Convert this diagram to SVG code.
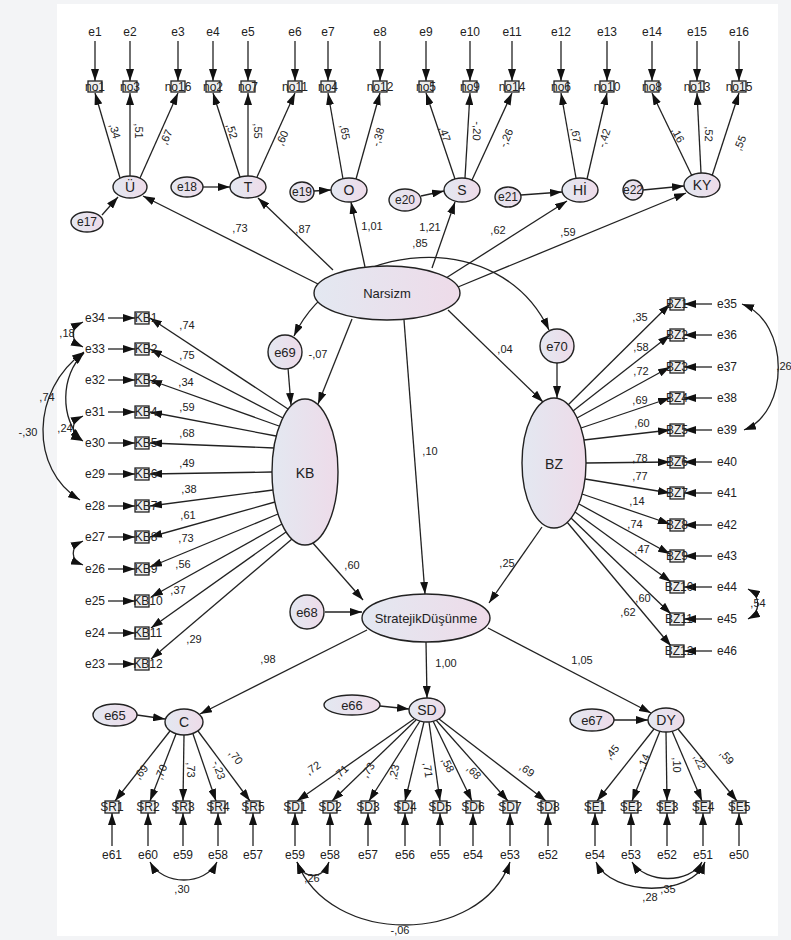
<svg xmlns="http://www.w3.org/2000/svg" width="791" height="940" viewBox="0 0 791 940">
<style>
text{font-family:"Liberation Sans",Arial,sans-serif;fill:#222;}
.t{font-size:12px;text-anchor:middle;}
.n{font-size:11px;text-anchor:middle;}
.L{font-size:14px;text-anchor:middle;}
.ln{stroke:#222;stroke-width:1.3;fill:none;marker-end:url(#ah);}
.cv{stroke:#222;stroke-width:1.3;fill:none;marker-end:url(#ah);marker-start:url(#ah);}
.el{fill:url(#g);stroke:#222;stroke-width:1.4;}
.bx{fill:#eee;stroke:#222;stroke-width:1.3;}
</style>
<defs>
<linearGradient id="g" x1="0" y1="0" x2="1" y2="0"><stop offset="0" stop-color="#e3e8f1"/><stop offset="1" stop-color="#eedbe9"/></linearGradient>
<marker id="ah" viewBox="0 0 12 8" refX="12" refY="4" markerWidth="12" markerHeight="8" markerUnits="userSpaceOnUse" orient="auto-start-reverse"><path d="M0,0L12,4L0,8z" fill="#111"/></marker>
</defs>
<rect width="791" height="940" fill="#f3f4f6"/>
<rect x="57" y="4" width="721" height="932" fill="#fff"/>
<g id="connectors">
<line class="ln" x1="95" y1="41" x2="95" y2="81"/><line class="ln" x1="130" y1="41" x2="130" y2="81"/><line class="ln" x1="178" y1="41" x2="178" y2="81"/><line class="ln" x1="213" y1="41" x2="213" y2="81"/><line class="ln" x1="248" y1="41" x2="248" y2="81"/><line class="ln" x1="295" y1="41" x2="295" y2="81"/><line class="ln" x1="328" y1="41" x2="328" y2="81"/><line class="ln" x1="380" y1="41" x2="380" y2="81"/><line class="ln" x1="426" y1="41" x2="426" y2="81"/><line class="ln" x1="470" y1="41" x2="470" y2="81"/><line class="ln" x1="512" y1="41" x2="512" y2="81"/><line class="ln" x1="561" y1="41" x2="561" y2="81"/><line class="ln" x1="607" y1="41" x2="607" y2="81"/><line class="ln" x1="652" y1="41" x2="652" y2="81"/><line class="ln" x1="697" y1="41" x2="697" y2="81"/><line class="ln" x1="739" y1="41" x2="739" y2="81"/>
<line class="ln" x1="120" y1="178" x2="95" y2="93"/><line class="ln" x1="130" y1="176" x2="130" y2="93"/><line class="ln" x1="140" y1="178" x2="178" y2="93"/>
<line class="ln" x1="240" y1="177" x2="213" y2="93"/><line class="ln" x1="248" y1="176" x2="248" y2="93"/><line class="ln" x1="257" y1="177" x2="295" y2="93"/>
<line class="ln" x1="343" y1="179" x2="328" y2="93"/><line class="ln" x1="356" y1="179" x2="380" y2="93"/>
<line class="ln" x1="455" y1="179" x2="426" y2="93"/><line class="ln" x1="465" y1="178" x2="470" y2="93"/><line class="ln" x1="472" y1="180" x2="512" y2="93"/>
<line class="ln" x1="576" y1="178" x2="561" y2="93"/><line class="ln" x1="587" y1="179" x2="607" y2="93"/>
<line class="ln" x1="692" y1="176" x2="652" y2="93"/><line class="ln" x1="701" y1="173" x2="697" y2="93"/><line class="ln" x1="712" y1="176" x2="739" y2="93"/>
<line class="ln" x1="102" y1="215" x2="118" y2="197"/>
<line class="ln" x1="203" y1="187" x2="230" y2="187"/>
<line class="ln" x1="314" y1="191" x2="331" y2="190"/>
<line class="ln" x1="421" y1="196" x2="444" y2="191"/>
<line class="ln" x1="521" y1="195" x2="562" y2="192"/>
<line class="ln" x1="643" y1="190" x2="684" y2="186"/>
<line class="ln" x1="318" y1="284" x2="143" y2="196"/>
<line class="ln" x1="333" y1="270" x2="258" y2="198"/>
<line class="ln" x1="365" y1="267" x2="351" y2="202"/>
<line class="ln" x1="432" y1="268" x2="455" y2="202"/>
<line class="ln" x1="446" y1="278" x2="567" y2="201"/>
<line class="ln" x1="458" y1="287" x2="686" y2="193"/>
<line class="ln" x1="352" y1="319" x2="318" y2="404"/>
<line class="ln" x1="404" y1="320" x2="425" y2="594"/>
<line class="ln" x1="448" y1="310" x2="543" y2="402"/>
<line class="ln" x1="288" y1="368" x2="291" y2="405"/>
<line class="ln" x1="557" y1="362" x2="557" y2="398"/>
<path class="cv" d="M294,336 C340,240 500,225 549,330"/>
<line class="ln" x1="108" y1="318" x2="135" y2="318"/><line class="ln" x1="108" y1="349" x2="135" y2="349"/><line class="ln" x1="108" y1="380" x2="135" y2="380"/><line class="ln" x1="108" y1="412" x2="135" y2="412"/><line class="ln" x1="108" y1="443" x2="135" y2="443"/><line class="ln" x1="108" y1="474" x2="135" y2="474"/><line class="ln" x1="108" y1="506" x2="135" y2="506"/><line class="ln" x1="108" y1="537" x2="135" y2="537"/><line class="ln" x1="108" y1="569" x2="135" y2="569"/><line class="ln" x1="108" y1="601" x2="135" y2="601"/><line class="ln" x1="108" y1="633" x2="135" y2="633"/><line class="ln" x1="108" y1="664" x2="135" y2="664"/>
<line class="ln" x1="288" y1="409" x2="150" y2="318"/>
<line class="ln" x1="283" y1="418" x2="150" y2="349"/>
<line class="ln" x1="279" y1="426" x2="150" y2="380"/>
<line class="ln" x1="276" y1="436" x2="150" y2="412"/>
<line class="ln" x1="274" y1="448" x2="150" y2="443"/>
<line class="ln" x1="272" y1="472" x2="150" y2="474"/>
<line class="ln" x1="273" y1="490" x2="150" y2="506"/>
<line class="ln" x1="275" y1="502" x2="150" y2="537"/>
<line class="ln" x1="278" y1="514" x2="150" y2="567"/>
<line class="ln" x1="282" y1="524" x2="151" y2="597"/>
<line class="ln" x1="286" y1="532" x2="151" y2="628"/>
<line class="ln" x1="292" y1="539" x2="151" y2="659"/>
<path class="cv" d="M83,322 C70,328 70,341 83,347"/>
<path class="cv" d="M83,416 C70,422 70,435 83,441"/>
<path class="cv" d="M83,541 C70,547 70,560 83,565"/>
<path class="cv" d="M84,353 C60,375 60,420 82,440"/>
<path class="cv" d="M84,352 C30,390 30,470 80,500"/>
<line class="ln" x1="712" y1="304" x2="684" y2="304"/><line class="ln" x1="712" y1="335" x2="684" y2="335"/><line class="ln" x1="712" y1="367" x2="684" y2="367"/><line class="ln" x1="712" y1="398" x2="684" y2="398"/><line class="ln" x1="712" y1="430" x2="684" y2="430"/><line class="ln" x1="712" y1="462" x2="684" y2="462"/><line class="ln" x1="712" y1="493" x2="684" y2="493"/><line class="ln" x1="712" y1="525" x2="684" y2="525"/><line class="ln" x1="712" y1="556" x2="684" y2="556"/><line class="ln" x1="712" y1="587" x2="684" y2="587"/><line class="ln" x1="712" y1="619" x2="684" y2="619"/><line class="ln" x1="712" y1="651" x2="684" y2="651"/>
<line class="ln" x1="568" y1="405" x2="670" y2="304"/>
<line class="ln" x1="573" y1="411" x2="670" y2="335"/>
<line class="ln" x1="577" y1="418" x2="670" y2="367"/>
<line class="ln" x1="581" y1="428" x2="670" y2="398"/>
<line class="ln" x1="584" y1="440" x2="670" y2="430"/>
<line class="ln" x1="586" y1="463" x2="670" y2="462"/>
<line class="ln" x1="585" y1="479" x2="670" y2="493"/>
<line class="ln" x1="582" y1="494" x2="670" y2="524"/>
<line class="ln" x1="579" y1="504" x2="670" y2="554"/>
<line class="ln" x1="575" y1="512" x2="671" y2="582"/>
<line class="ln" x1="571" y1="518" x2="671" y2="614"/>
<line class="ln" x1="567" y1="522" x2="671" y2="646"/>
<path class="cv" d="M742,304 C790,322 790,412 744,430"/>
<path class="cv" d="M748,589 C761,596 761,612 748,619"/>
<line class="ln" x1="312" y1="542" x2="363" y2="600"/>
<line class="ln" x1="542" y1="527" x2="489" y2="603"/>
<line class="ln" x1="325" y1="612" x2="362" y2="612"/>
<line class="ln" x1="367" y1="630" x2="200" y2="714"/>
<line class="ln" x1="426" y1="642" x2="427" y2="698"/>
<line class="ln" x1="488" y1="628" x2="651" y2="713"/>
<line class="ln" x1="137" y1="715" x2="165" y2="719"/>
<line class="ln" x1="380" y1="706" x2="409" y2="709"/>
<line class="ln" x1="614" y1="720" x2="648" y2="720"/>
<line class="ln" x1="170" y1="731" x2="115" y2="801"/>
<line class="ln" x1="176" y1="734" x2="150" y2="801"/>
<line class="ln" x1="184" y1="735" x2="183" y2="801"/>
<line class="ln" x1="193" y1="734" x2="216" y2="801"/>
<line class="ln" x1="198" y1="731" x2="250" y2="801"/>
<line class="ln" x1="414" y1="719" x2="297" y2="801"/>
<line class="ln" x1="416" y1="720" x2="332" y2="801"/>
<line class="ln" x1="420" y1="721" x2="369" y2="801"/>
<line class="ln" x1="424" y1="722" x2="405" y2="801"/>
<line class="ln" x1="429" y1="722" x2="440" y2="801"/>
<line class="ln" x1="433" y1="721" x2="472" y2="801"/>
<line class="ln" x1="436" y1="720" x2="508" y2="801"/>
<line class="ln" x1="439" y1="719" x2="546" y2="801"/>
<line class="ln" x1="654" y1="729" x2="597" y2="801"/>
<line class="ln" x1="660" y1="731" x2="632" y2="801"/>
<line class="ln" x1="666" y1="732" x2="667" y2="801"/>
<line class="ln" x1="672" y1="731" x2="702" y2="801"/>
<line class="ln" x1="678" y1="729" x2="737" y2="801"/>
<line class="ln" x1="112" y1="846" x2="112" y2="813"/><line class="ln" x1="148" y1="846" x2="148" y2="813"/><line class="ln" x1="183" y1="846" x2="183" y2="813"/><line class="ln" x1="218" y1="846" x2="218" y2="813"/><line class="ln" x1="253" y1="846" x2="253" y2="813"/>
<line class="ln" x1="295" y1="846" x2="295" y2="813"/><line class="ln" x1="330" y1="846" x2="330" y2="813"/><line class="ln" x1="368" y1="846" x2="368" y2="813"/><line class="ln" x1="405" y1="846" x2="405" y2="813"/><line class="ln" x1="440" y1="846" x2="440" y2="813"/><line class="ln" x1="473" y1="846" x2="473" y2="813"/><line class="ln" x1="510" y1="846" x2="510" y2="813"/><line class="ln" x1="548" y1="846" x2="548" y2="813"/>
<line class="ln" x1="595" y1="846" x2="595" y2="813"/><line class="ln" x1="631" y1="846" x2="631" y2="813"/><line class="ln" x1="667" y1="846" x2="667" y2="813"/><line class="ln" x1="703" y1="846" x2="703" y2="813"/><line class="ln" x1="739" y1="846" x2="739" y2="813"/>
<path class="cv" d="M150,862 C163,886 205,886 217,862"/>
<path class="cv" d="M297,862 C304,880 322,880 329,862"/>
<path class="cv" d="M297,862 C330,946 480,946 510,862"/>
<path class="cv" d="M596,862 C612,897 692,897 705,862"/>
<path class="cv" d="M632,862 C646,884 690,884 702,862"/>
</g>
<g id="path-labels" class="n">
<text transform="translate(115,131) rotate(74)" dy=".35em">,34</text>
<text transform="translate(139,131) rotate(90)" dy=".35em">,51</text>
<text transform="translate(166,137) rotate(-66)" dy=".35em">,67</text>
<text transform="translate(232,131) rotate(72)" dy=".35em">,52</text>
<text transform="translate(258,131) rotate(90)" dy=".35em">,55</text>
<text transform="translate(282,138) rotate(-66)" dy=".35em">,60</text>
<text transform="translate(345,132) rotate(80)" dy=".35em">,65</text>
<text transform="translate(378,137) rotate(-74)" dy=".35em">-,38</text>
<text transform="translate(445,134) rotate(71)" dy=".35em">,47</text>
<text transform="translate(477,131) rotate(93)" dy=".35em">-,20</text>
<text transform="translate(506,138) rotate(-66)" dy=".35em">-,26</text>
<text transform="translate(576,135) rotate(80)" dy=".35em">,67</text>
<text transform="translate(604,138) rotate(-72)" dy=".35em">-,42</text>
<text transform="translate(678,135) rotate(62)" dy=".35em">,16</text>
<text transform="translate(709,134) rotate(92)" dy=".35em">,52</text>
<text transform="translate(740,143) rotate(-68)" dy=".35em">,55</text>
<text x="240" y="232">,73</text><text x="303" y="233">,87</text><text x="372" y="230">1,01</text><text x="430" y="231">1,21</text><text x="498" y="234">,62</text><text x="568" y="236">,59</text><text x="420" y="247">,85</text>
<text x="318" y="358">-,07</text><text x="430" y="455">,10</text><text x="505" y="353">,04</text>
<text x="187" y="329">,74</text><text x="187" y="359">,75</text><text x="186" y="386">,34</text><text x="187" y="411">,59</text><text x="187" y="437">,68</text><text x="187" y="467">,49</text><text x="189" y="493">,38</text><text x="188" y="519">,61</text><text x="186" y="542">,73</text><text x="183" y="568">,56</text><text x="178" y="594">,37</text><text x="194" y="643">,29</text>
<text x="67" y="337">,18</text><text x="65" y="432">,24</text><text x="47" y="401">,74</text><text x="28" y="436">-,30</text>
<text x="640" y="321">,35</text><text x="641" y="351">,58</text><text x="641" y="375">,72</text><text x="640" y="404">,69</text><text x="642" y="427">,60</text><text x="640" y="462">,78</text><text x="640" y="480">,77</text><text x="637" y="505">,14</text><text x="635" y="528">,74</text><text x="642" y="553">,47</text><text x="643" y="602">,60</text><text x="628" y="616">,62</text>
<text x="784" y="370">,26</text><text x="758" y="607">,54</text>
<text x="352" y="569">,60</text><text x="507" y="567">,25</text><text x="268" y="663">,98</text><text x="446" y="667">1,00</text><text x="582" y="664">1,05</text>
<text transform="translate(141,772) rotate(-51)" dy=".35em">,69</text>
<text transform="translate(161,772) rotate(-68)" dy=".35em">,70</text>
<text transform="translate(191,770) rotate(90)" dy=".35em">,73</text>
<text transform="translate(219,770) rotate(71)" dy=".35em">-,23</text>
<text transform="translate(236,757) rotate(53)" dy=".35em">,70</text>
<text transform="translate(313,768) rotate(-34)" dy=".35em">,72</text>
<text transform="translate(341,772) rotate(-43)" dy=".35em">,71</text>
<text transform="translate(368,770) rotate(-57)" dy=".35em">,73</text>
<text transform="translate(394,772) rotate(-76)" dy=".35em">,23</text>
<text transform="translate(428,770) rotate(82)" dy=".35em">,71</text>
<text transform="translate(448,765) rotate(63)" dy=".35em">,58</text>
<text transform="translate(474,772) rotate(47)" dy=".35em">,68</text>
<text transform="translate(527,770) rotate(37)" dy=".35em">,69</text>
<text transform="translate(612,752) rotate(-50)" dy=".35em">,45</text>
<text transform="translate(643,763) rotate(-67)" dy=".35em">-,14</text>
<text transform="translate(677,765) rotate(90)" dy=".35em">,10</text>
<text transform="translate(700,762) rotate(66)" dy=".35em">,22</text>
<text transform="translate(727,757) rotate(49)" dy=".35em">,59</text>
<text x="182" y="893">,30</text><text x="312" y="882">,26</text><text x="400" y="934">-,06</text><text x="650" y="901">,28</text><text x="668" y="893">,35</text>
</g>
<g id="top-indicators" class="t">
<g id="no1"><rect class="bx" x="88" y="81" width="14" height="11"/><text x="95" y="91">no1</text><text x="95" y="36">e1</text></g>
<g id="no3"><rect class="bx" x="123" y="81" width="14" height="11"/><text x="130" y="91">no3</text><text x="130" y="36">e2</text></g>
<g id="no16"><rect class="bx" x="171" y="81" width="14" height="11"/><text x="178" y="91">no16</text><text x="178" y="36">e3</text></g>
<g id="no2"><rect class="bx" x="206" y="81" width="14" height="11"/><text x="213" y="91">no2</text><text x="213" y="36">e4</text></g>
<g id="no7"><rect class="bx" x="241" y="81" width="14" height="11"/><text x="248" y="91">no7</text><text x="248" y="36">e5</text></g>
<g id="no11"><rect class="bx" x="288" y="81" width="14" height="11"/><text x="295" y="91">no11</text><text x="295" y="36">e6</text></g>
<g id="no4"><rect class="bx" x="321" y="81" width="14" height="11"/><text x="328" y="91">no4</text><text x="328" y="36">e7</text></g>
<g id="no12"><rect class="bx" x="373" y="81" width="14" height="11"/><text x="380" y="91">no12</text><text x="380" y="36">e8</text></g>
<g id="no5"><rect class="bx" x="419" y="81" width="14" height="11"/><text x="426" y="91">no5</text><text x="426" y="36">e9</text></g>
<g id="no9"><rect class="bx" x="463" y="81" width="14" height="11"/><text x="470" y="91">no9</text><text x="470" y="36">e10</text></g>
<g id="no14"><rect class="bx" x="505" y="81" width="14" height="11"/><text x="512" y="91">no14</text><text x="512" y="36">e11</text></g>
<g id="no6"><rect class="bx" x="554" y="81" width="14" height="11"/><text x="561" y="91">no6</text><text x="561" y="36">e12</text></g>
<g id="no10"><rect class="bx" x="600" y="81" width="14" height="11"/><text x="607" y="91">no10</text><text x="607" y="36">e13</text></g>
<g id="no8"><rect class="bx" x="645" y="81" width="14" height="11"/><text x="652" y="91">no8</text><text x="652" y="36">e14</text></g>
<g id="no13"><rect class="bx" x="690" y="81" width="14" height="11"/><text x="697" y="91">no13</text><text x="697" y="36">e15</text></g>
<g id="no15"><rect class="bx" x="732" y="81" width="14" height="11"/><text x="739" y="91">no15</text><text x="739" y="36">e16</text></g>
</g>
<g id="top-latents">
<g id="U"><ellipse class="el" cx="130" cy="187" rx="17" ry="11"/><text class="L" x="130" y="192">Ü</text></g>
<g id="T"><ellipse class="el" cx="248" cy="187" rx="18" ry="11"/><text class="L" x="248" y="192">T</text></g>
<g id="O"><ellipse class="el" cx="349" cy="190" rx="18" ry="12"/><text class="L" x="349" y="195">O</text></g>
<g id="S"><ellipse class="el" cx="462" cy="190" rx="18" ry="12"/><text class="L" x="462" y="195">S</text></g>
<g id="HI"><ellipse class="el" cx="580" cy="190" rx="18" ry="12"/><text class="L" x="580" y="195">Hİ</text></g>
<g id="KY"><ellipse class="el" cx="702" cy="185" rx="18" ry="12"/><text class="L" x="702" y="190">KY</text></g>
<g id="e17"><ellipse class="el" cx="87" cy="222" rx="16" ry="10"/><text class="t" x="87" y="226">e17</text></g>
<g id="e18"><ellipse class="el" cx="187" cy="187" rx="16" ry="10"/><text class="t" x="187" y="191">e18</text></g>
<g id="e19"><ellipse class="el" cx="302" cy="192" rx="12" ry="10"/><text class="t" x="302" y="196">e19</text></g>
<g id="e20"><ellipse class="el" cx="405" cy="200" rx="16" ry="11"/><text class="t" x="405" y="204">e20</text></g>
<g id="e21"><ellipse class="el" cx="508" cy="197" rx="13" ry="10"/><text class="t" x="508" y="201">e21</text></g>
<g id="e22"><ellipse class="el" cx="633" cy="190" rx="10" ry="10"/><text class="t" x="633" y="194">e22</text></g>
</g>
<g id="Narsizm"><ellipse class="el" cx="387" cy="293" rx="73" ry="27"/><text class="L" x="387" y="298" style="font-size:13px">Narsizm</text></g>
<g id="e69"><circle class="el" cx="285" cy="352" r="17"/><text class="t" x="285" y="357" style="font-size:13px">e69</text></g>
<g id="e70"><circle class="el" cx="557" cy="346" r="17"/><text class="t" x="557" y="351" style="font-size:13px">e70</text></g>
<g id="KB"><ellipse class="el" cx="305" cy="472" rx="33" ry="73"/><text class="L" x="305" y="478">KB</text></g>
<g id="BZ"><ellipse class="el" cx="554" cy="463" rx="32" ry="65"/><text class="L" x="554" y="469">BZ</text></g>
<g id="KB-indicators" class="t">
<g id="KB1"><rect class="bx" x="135" y="312" width="14" height="12"/><text x="146" y="322">KB1</text><text x="95" y="322">e34</text></g>
<g id="KB2"><rect class="bx" x="135" y="343" width="14" height="12"/><text x="146" y="353">KB2</text><text x="95" y="353">e33</text></g>
<g id="KB3"><rect class="bx" x="135" y="374" width="14" height="12"/><text x="146" y="384">KB3</text><text x="95" y="384">e32</text></g>
<g id="KB4"><rect class="bx" x="135" y="406" width="14" height="12"/><text x="146" y="416">KB4</text><text x="95" y="416">e31</text></g>
<g id="KB5"><rect class="bx" x="135" y="437" width="14" height="12"/><text x="146" y="447">KB5</text><text x="95" y="447">e30</text></g>
<g id="KB6"><rect class="bx" x="135" y="468" width="14" height="12"/><text x="146" y="478">KB6</text><text x="95" y="478">e29</text></g>
<g id="KB7"><rect class="bx" x="135" y="500" width="14" height="12"/><text x="146" y="510">KB7</text><text x="95" y="510">e28</text></g>
<g id="KB8"><rect class="bx" x="135" y="531" width="14" height="12"/><text x="146" y="541">KB8</text><text x="95" y="541">e27</text></g>
<g id="KB9"><rect class="bx" x="135" y="563" width="14" height="12"/><text x="146" y="573">KB9</text><text x="95" y="573">e26</text></g>
<g id="KB10"><rect class="bx" x="135" y="595" width="14" height="12"/><text x="148" y="605">KB10</text><text x="95" y="605">e25</text></g>
<g id="KB11"><rect class="bx" x="135" y="627" width="14" height="12"/><text x="148" y="637">KB11</text><text x="95" y="637">e24</text></g>
<g id="KB12"><rect class="bx" x="135" y="658" width="14" height="12"/><text x="148" y="668">KB12</text><text x="95" y="668">e23</text></g>
</g>
<g id="BZ-indicators" class="t">
<g id="BZ1"><rect class="bx" x="670" y="298" width="14" height="12"/><text x="677" y="308">BZ1</text><text x="727" y="308">e35</text></g>
<g id="BZ2"><rect class="bx" x="670" y="329" width="14" height="12"/><text x="677" y="339">BZ2</text><text x="727" y="339">e36</text></g>
<g id="BZ3"><rect class="bx" x="670" y="361" width="14" height="12"/><text x="677" y="371">BZ3</text><text x="727" y="371">e37</text></g>
<g id="BZ4"><rect class="bx" x="670" y="392" width="14" height="12"/><text x="677" y="402">BZ4</text><text x="727" y="402">e38</text></g>
<g id="BZ5"><rect class="bx" x="670" y="424" width="14" height="12"/><text x="677" y="434">BZ5</text><text x="727" y="434">e39</text></g>
<g id="BZ6"><rect class="bx" x="670" y="456" width="14" height="12"/><text x="677" y="466">BZ6</text><text x="727" y="466">e40</text></g>
<g id="BZ7"><rect class="bx" x="670" y="487" width="14" height="12"/><text x="677" y="497">BZ7</text><text x="727" y="497">e41</text></g>
<g id="BZ8"><rect class="bx" x="670" y="519" width="14" height="12"/><text x="677" y="529">BZ8</text><text x="727" y="529">e42</text></g>
<g id="BZ9"><rect class="bx" x="670" y="550" width="14" height="12"/><text x="677" y="560">BZ9</text><text x="727" y="560">e43</text></g>
<g id="BZ10"><rect class="bx" x="670" y="581" width="14" height="12"/><text x="679" y="591">BZ10</text><text x="727" y="591">e44</text></g>
<g id="BZ11"><rect class="bx" x="670" y="613" width="14" height="12"/><text x="679" y="623">BZ11</text><text x="727" y="623">e45</text></g>
<g id="BZ12"><rect class="bx" x="670" y="645" width="14" height="12"/><text x="679" y="655">BZ12</text><text x="727" y="655">e46</text></g>
</g>
<g id="SDmain"><ellipse class="el" cx="426" cy="618" rx="64" ry="24"/><text class="t" x="426" y="623" style="font-size:13px">StratejikDüşünme</text></g>
<g id="e68"><circle class="el" cx="307" cy="612" r="17"/><text class="t" x="307" y="617" style="font-size:13px">e68</text></g>
<g id="C"><ellipse class="el" cx="184" cy="722" rx="19" ry="13"/><text class="L" x="184" y="727">C</text></g>
<g id="SD"><ellipse class="el" cx="427" cy="710" rx="18" ry="12"/><text class="L" x="427" y="715">SD</text></g>
<g id="DY"><ellipse class="el" cx="666" cy="720" rx="18" ry="12"/><text class="L" x="666" y="725">DY</text></g>
<g id="e65"><ellipse class="el" cx="115" cy="715" rx="22" ry="11"/><text class="t" x="115" y="720" style="font-size:13px">e65</text></g>
<g id="e66"><ellipse class="el" cx="352" cy="705" rx="28" ry="10"/><text class="t" x="352" y="710" style="font-size:13px">e66</text></g>
<g id="e67"><ellipse class="el" cx="592" cy="720" rx="22" ry="11"/><text class="t" x="592" y="725" style="font-size:13px">e67</text></g>
<g id="bottom-indicators" class="t">
<g id="SR1"><rect class="bx" x="105" y="801" width="14" height="12"/><text x="112" y="811">SR1</text><text x="112" y="859">e61</text></g>
<g id="SR2"><rect class="bx" x="141" y="801" width="14" height="12"/><text x="148" y="811">SR2</text><text x="148" y="859">e60</text></g>
<g id="SR3"><rect class="bx" x="176" y="801" width="14" height="12"/><text x="183" y="811">SR3</text><text x="183" y="859">e59</text></g>
<g id="SR4"><rect class="bx" x="211" y="801" width="14" height="12"/><text x="218" y="811">SR4</text><text x="218" y="859">e58</text></g>
<g id="SR5"><rect class="bx" x="246" y="801" width="14" height="12"/><text x="253" y="811">SR5</text><text x="253" y="859">e57</text></g>
<g id="SD1"><rect class="bx" x="288" y="801" width="14" height="12"/><text x="295" y="811">SD1</text><text x="295" y="859">e59</text></g>
<g id="SD2"><rect class="bx" x="323" y="801" width="14" height="12"/><text x="330" y="811">SD2</text><text x="330" y="859">e58</text></g>
<g id="SD3"><rect class="bx" x="361" y="801" width="14" height="12"/><text x="368" y="811">SD3</text><text x="368" y="859">e57</text></g>
<g id="SD4"><rect class="bx" x="398" y="801" width="14" height="12"/><text x="405" y="811">SD4</text><text x="405" y="859">e56</text></g>
<g id="SD5"><rect class="bx" x="433" y="801" width="14" height="12"/><text x="440" y="811">SD5</text><text x="440" y="859">e55</text></g>
<g id="SD6"><rect class="bx" x="466" y="801" width="14" height="12"/><text x="473" y="811">SD6</text><text x="473" y="859">e54</text></g>
<g id="SD7"><rect class="bx" x="503" y="801" width="14" height="12"/><text x="510" y="811">SD7</text><text x="510" y="859">e53</text></g>
<g id="SD8"><rect class="bx" x="541" y="801" width="14" height="12"/><text x="548" y="811">SD8</text><text x="548" y="859">e52</text></g>
<g id="SE1"><rect class="bx" x="588" y="801" width="14" height="12"/><text x="595" y="811">SE1</text><text x="595" y="859">e54</text></g>
<g id="SE2"><rect class="bx" x="624" y="801" width="14" height="12"/><text x="631" y="811">SE2</text><text x="631" y="859">e53</text></g>
<g id="SE3"><rect class="bx" x="660" y="801" width="14" height="12"/><text x="667" y="811">SE3</text><text x="667" y="859">e52</text></g>
<g id="SE4"><rect class="bx" x="696" y="801" width="14" height="12"/><text x="703" y="811">SE4</text><text x="703" y="859">e51</text></g>
<g id="SE5"><rect class="bx" x="732" y="801" width="14" height="12"/><text x="739" y="811">SE5</text><text x="739" y="859">e50</text></g>
</g>
</svg>
